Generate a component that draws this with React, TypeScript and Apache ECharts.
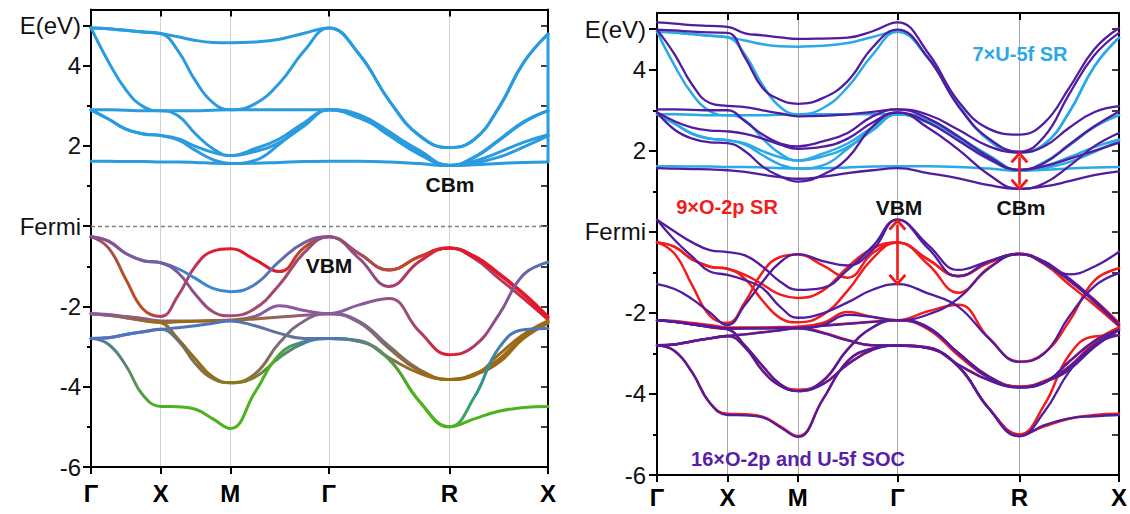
import React, { useEffect, useRef } from 'react';
import * as echarts from 'echarts';

// ---------- k-path (simple cubic) ----------
const kTicks = [0, 0.5, 1.0, 1.7071, 2.5731, 3.2802];
const kLabels = ['Γ', 'X', 'M', 'Γ', 'R', 'X'];
const SUB = 4;
const kGrid: number[] = [];
kTicks.slice(0, -1).forEach((k, s) => {
  for (let j = 0; j < SUB; j++) kGrid.push(k + ((kTicks[s + 1] - k) * j) / SUB);
});
kGrid.push(kTicks[kTicks.length - 1]);
const kMax = kTicks[kTicks.length - 1];

// ---------- energy axis ----------
const yMajor = [-6, -4, -2, 0, 2, 4, 5];
const yMinor = [-5, -3, -1, 1, 3];
const yAll = [-6, -5, -4, -3, -2, -1, 0, 1, 2, 3, 4, 5];
const yLabelText: Record<string, string> = { '0': 'Fermi', '5': 'E(eV)' };

// ---------- scalar-relativistic U-5f bands (7) ----------
const srU1 = [4.94, 4.92, 4.88, 4.84, 4.80, 4.72, 4.63, 4.58, 4.57, 4.59, 4.66, 4.81, 4.94, 4.29, 3.13, 2.26, 1.96, 2.16, 2.95, 4.07, 4.79];
const srU2 = [4.94, 4.92, 4.88, 4.84, 4.80, 4.37, 3.62, 3.08, 2.90, 3.05, 3.57, 4.37, 4.94, 4.29, 3.13, 2.26, 1.96, 2.16, 2.95, 4.07, 4.79];
const srU3 = [4.94, 4.10, 3.40, 2.98, 2.88, 2.88, 2.88, 2.89, 2.90, 2.90, 2.90, 2.90, 2.90, 2.75, 2.26, 1.79, 1.51, 1.71, 2.13, 2.58, 2.88];
const srU4 = [2.90, 2.90, 2.89, 2.88, 2.88, 2.75, 2.30, 1.93, 1.76, 1.93, 2.18, 2.58, 2.90, 2.70, 2.33, 1.89, 1.52, 1.62, 1.84, 2.09, 2.28];
const srU5 = [2.90, 2.67, 2.42, 2.30, 2.26, 2.18, 1.99, 1.84, 1.76, 1.86, 2.09, 2.50, 2.90, 2.72, 2.30, 1.85, 1.51, 1.57, 1.72, 1.97, 2.25];
const srU6 = [2.90, 2.67, 2.42, 2.30, 2.26, 2.15, 1.89, 1.66, 1.56, 1.64, 2.05, 2.55, 2.90, 2.78, 2.36, 1.84, 1.51, 1.72, 2.15, 2.60, 2.88];
const srU7 = [1.62, 1.62, 1.61, 1.61, 1.60, 1.60, 1.59, 1.57, 1.56, 1.57, 1.59, 1.61, 1.62, 1.62, 1.60, 1.56, 1.51, 1.53, 1.56, 1.59, 1.60];
const srU = [srU1, srU2, srU3, srU4, srU5, srU6, srU7];

// ---------- scalar-relativistic O-2p bands (9) ----------
const srO1 = [-0.26, -0.54, -1.32, -2.07, -2.25, -1.73, -0.99, -0.62, -0.56, -0.83, -1.13, -0.53, -0.26, -0.68, -1.09, -0.76, -0.54, -0.74, -1.17, -1.67, -2.25];
const srO2 = [-0.26, -0.37, -0.68, -0.86, -0.91, -1.06, -1.30, -1.55, -1.63, -1.45, -0.87, -0.41, -0.26, -0.80, -1.50, -0.88, -0.54, -0.80, -1.30, -1.80, -2.33];
const srO3 = [-0.26, -0.37, -0.68, -0.86, -0.91, -1.16, -1.70, -2.13, -2.23, -2.05, -1.45, -0.66, -0.26, -0.68, -1.09, -0.76, -0.54, -0.78, -1.20, -1.70, -2.28];
const srO4 = [-2.18, -2.20, -2.25, -2.30, -2.36, -2.36, -2.36, -2.35, -2.34, -2.25, -1.98, -2.10, -2.18, -1.96, -1.80, -2.62, -3.20, -2.99, -2.21, -1.21, -0.90];
const srO5 = [-2.18, -2.22, -2.28, -2.35, -2.40, -2.38, -2.37, -2.36, -2.35, -2.31, -2.26, -2.22, -2.18, -2.40, -3.05, -3.60, -3.82, -3.68, -3.32, -2.75, -2.39];
const srO6 = [-2.18, -2.22, -2.28, -2.35, -2.40, -2.81, -3.31, -3.76, -3.90, -3.68, -2.90, -2.36, -2.18, -2.37, -2.99, -3.57, -3.82, -3.72, -3.20, -2.70, -2.36];
const srO7 = [-2.80, -2.78, -2.70, -2.63, -2.57, -2.53, -2.48, -2.42, -2.36, -2.48, -2.67, -2.80, -2.80, -2.85, -3.28, -3.66, -3.82, -3.70, -3.40, -2.80, -2.42];
const srO8 = [-2.80, -2.78, -2.70, -2.63, -2.57, -2.85, -3.43, -3.80, -3.90, -3.76, -3.27, -2.91, -2.80, -2.87, -3.32, -4.36, -5.00, -4.27, -3.04, -2.58, -2.55];
const srO9 = [-2.80, -2.94, -3.47, -4.22, -4.49, -4.50, -4.56, -4.80, -5.04, -4.14, -3.19, -2.88, -2.80, -2.87, -3.32, -4.36, -5.00, -4.80, -4.61, -4.52, -4.49];
const srO = [srO1, srO2, srO3, srO4, srO5, srO6, srO7, srO8, srO9];

// ---------- SOC bands (16) ----------
const socU1 = [5.17, 5.14, 5.10, 5.08, 5.06, 4.90, 4.85, 4.80, 4.76, 4.77, 4.79, 4.95, 5.17, 4.42, 3.22, 2.54, 2.40, 2.69, 3.55, 4.50, 5.03];
const socU2 = [4.99, 4.97, 4.94, 4.92, 4.91, 4.30, 3.55, 3.26, 3.16, 3.30, 3.72, 4.55, 4.99, 4.30, 3.10, 2.30, 1.98, 2.35, 3.40, 4.35, 4.91];
const socU3 = [4.99, 4.38, 3.63, 3.18, 3.11, 3.08, 3.00, 2.92, 2.85, 2.86, 2.90, 2.96, 3.02, 2.89, 2.52, 2.11, 1.96, 2.11, 2.57, 2.95, 3.10];
const socU4 = [3.02, 3.02, 3.01, 3.00, 3.00, 2.73, 2.40, 2.18, 2.11, 2.23, 2.44, 2.85, 3.02, 2.80, 2.35, 1.85, 1.53, 1.70, 2.15, 2.60, 2.97];
const socU5 = [2.95, 2.73, 2.57, 2.50, 2.48, 2.42, 2.30, 2.15, 2.05, 2.10, 2.30, 2.70, 2.95, 2.57, 2.03, 1.41, 1.06, 1.20, 1.62, 2.11, 2.44];
const socU6 = [2.95, 2.52, 2.30, 2.21, 2.19, 1.99, 1.61, 1.37, 1.24, 1.41, 1.82, 2.60, 2.95, 2.70, 2.25, 1.80, 1.53, 1.62, 1.80, 2.00, 2.20];
const socU7 = [1.57, 1.56, 1.55, 1.54, 1.52, 1.48, 1.41, 1.35, 1.31, 1.36, 1.45, 1.52, 1.57, 1.45, 1.32, 1.15, 1.06, 1.12, 1.25, 1.40, 1.49];
const socO1 = [0.30, 0.01, -0.26, -0.45, -0.50, -0.58, -0.86, -1.23, -1.43, -1.38, -0.94, -0.36, 0.30, -0.32, -0.94, -0.72, -0.55, -0.73, -1.05, -0.86, -0.49];
const socO2 = [0.30, -0.20, -0.61, -0.98, -1.06, -1.19, -1.39, -1.85, -2.12, -2.01, -1.74, -1.43, -1.29, -1.52, -1.85, -2.63, -3.21, -3.00, -2.09, -1.35, -1.02];
const socO3 = [-1.29, -1.41, -1.66, -1.99, -2.30, -1.80, -1.23, -0.75, -0.55, -0.72, -0.83, -0.45, 0.30, -0.40, -1.10, -0.73, -0.55, -0.75, -1.15, -1.68, -2.30];
const socO4 = [-2.18, -2.22, -2.28, -2.33, -2.38, -2.38, -2.38, -2.38, -2.38, -2.30, -2.05, -2.10, -2.18, -2.04, -1.64, -0.90, -0.55, -0.78, -1.20, -1.72, -2.30];
const socO5 = [-2.18, -2.22, -2.28, -2.34, -2.38, -2.38, -2.38, -2.37, -2.37, -2.32, -2.27, -2.22, -2.18, -2.35, -3.00, -3.60, -3.84, -3.72, -3.33, -2.80, -2.42];
const socO6 = [-2.18, -2.22, -2.28, -2.35, -2.40, -2.81, -3.31, -3.76, -3.93, -3.68, -2.90, -2.36, -2.18, -2.37, -2.99, -3.57, -3.84, -3.72, -3.20, -2.70, -2.42];
const socO7 = [-2.81, -2.78, -2.70, -2.63, -2.57, -2.53, -2.48, -2.43, -2.38, -2.50, -2.68, -2.80, -2.81, -2.85, -3.28, -3.66, -3.84, -3.70, -3.40, -2.85, -2.42];
const socO8 = [-2.81, -2.78, -2.70, -2.63, -2.57, -2.85, -3.43, -3.80, -3.93, -3.76, -3.27, -2.91, -2.81, -2.87, -3.32, -4.36, -5.04, -4.44, -3.45, -2.80, -2.55];
const socO9 = [-2.81, -2.94, -3.47, -4.22, -4.52, -4.53, -4.58, -4.82, -5.06, -4.14, -3.19, -2.88, -2.81, -2.87, -3.32, -4.36, -5.04, -4.77, -4.60, -4.55, -4.52];
const soc = [socU1, socU2, socU3, socU4, socU5, socU6, socU7, socO1, socO2, socO3, socO4, socO5, socO6, socO7, socO8, socO9];

// left-panel vertical segments at the closing X point
const edgeU = [4.79, 1.60];
const edgeO = [-0.51, -5.0];

// arrows: [k, Etop, Ebottom]
const gapArrows = [
  [1.7071, 0.18, -1.19],
  [2.5731, 1.84, 1.16],
];

// ---------- styles ----------
const FONT = '"Liberation Sans", Arial, Helvetica, sans-serif';
const C = {
  red: '#e4182c', orange: '#c4481e', mauve: '#8e4e86', mred: '#b04058', purple: '#8a5aa0',
  blue: '#3a8ad2', steel: '#5074bc', brown: '#9a6a16', green: '#4cb21e', gray: '#7a6e78',
  teal: '#2a9a90', pblue: '#6a64a8', pink: '#a04a70', ggreen: '#5a8a66',
};
const oStops: [number, string][][] = [
  [[0, C.mauve], [0.06, '#b2502e'], [0.12, C.orange], [0.1524, C.mred], [0.2, C.pink], [0.27, C.red], [0.4, C.red], [0.47, C.orange], [0.52, C.mauve], [0.6, C.mred], [0.7, C.red], [1, C.red]],
  [[0, C.mauve], [0.1, C.pblue], [0.1524, C.steel], [0.25, C.blue], [0.305, C.blue], [0.45, C.pblue], [0.52, C.mauve], [0.62, C.mauve], [0.78, C.red], [0.85, C.pink], [1, C.red]],
  [[0, C.mauve], [0.15, C.pblue], [0.22, C.mauve], [0.305, C.pink], [0.45, C.pink], [0.52, C.mauve], [0.7, C.orange], [0.78, C.red], [1, C.red]],
  [[0, C.purple], [0.305, C.purple], [0.52, C.purple], [0.6, C.purple], [0.7, C.pink], [0.78, C.red], [0.88, C.mauve], [1, C.steel]],
  [[0, C.purple], [0.1, '#8a6060'], [0.1524, C.brown], [0.305, C.brown], [0.52, C.purple], [0.6, C.gray], [0.7, C.brown], [1, C.brown]],
  [[0, C.purple], [0.15, C.brown], [0.305, C.brown], [0.42, C.gray], [0.52, C.purple], [0.65, C.gray], [0.78, C.brown], [1, C.brown]],
  [[0, C.steel], [0.305, C.steel], [0.42, '#6a7090'], [0.52, C.steel], [0.62, C.gray], [0.72, C.brown], [1, C.brown]],
  [[0, C.steel], [0.15, C.steel], [0.2, '#707060'], [0.305, '#8a7a14'], [0.42, C.ggreen], [0.52, C.steel], [0.62, C.ggreen], [0.72, C.green], [0.78, C.green], [0.85, C.teal], [0.92, C.steel], [1, C.steel]],
  [[0, C.steel], [0.08, C.ggreen], [0.15, C.green], [0.305, C.green], [0.4, C.green], [0.47, '#4a80a0'], [0.52, C.steel], [0.62, C.ggreen], [0.7, C.green], [1, C.green]],
];
const edgeOStops: [number, string][] = [[0, C.red], [0.39, C.red], [0.39, C.purple], [0.6, C.purple], [0.6, C.brown], [0.75, C.brown], [0.75, C.steel], [1, C.steel]];

const leftBlue = '#2b9be0';
const rightBlue = '#2aa9e4';
const srRed = '#f21c1c';
const socPurple = '#521ca0';

const chevron = 'path://M0,12 L10,0 L20,12 L17.5,14 L10,5 L2.5,14 Z';

function grad(stops: [number, string][], vertical = false) {
  return new echarts.graphic.LinearGradient(0, 0, vertical ? 0 : 1, vertical ? 1 : 0,
    stops.map(([offset, color]) => ({ offset, color })));
}

function bandSeries(vals: number[], xi: number, yi: number, color: any, width: number, extra: any = {}) {
  return {
    type: 'line',
    xAxisIndex: xi,
    yAxisIndex: yi,
    data: kGrid.map((k, i) => [k, vals[i]]),
    smooth: 0.45,
    symbol: 'none',
    silent: true,
    lineStyle: { color, width, cap: 'round', join: 'round' },
    ...extra,
  };
}

function labelForK(v: number) {
  const i = kTicks.findIndex((t) => Math.abs(t - v) < 1e-3);
  return i >= 0 ? kLabels[i] : '';
}

function xAxes(gi: number, splitColor: string, margin: number) {
  const line = { show: true, onZero: false, lineStyle: { color: '#000', width: 2 } };
  return [
    {
      gridIndex: gi, type: 'value', position: 'bottom', min: 0, max: kMax,
      axisLine: line,
      axisTick: { show: true, customValues: kTicks, length: 7, lineStyle: { color: '#000', width: 2 } },
      axisLabel: { show: true, customValues: kTicks, formatter: labelForK, fontSize: 24, fontWeight: 'bold', color: '#000', fontFamily: FONT, margin },
      splitLine: { show: true, lineStyle: { color: splitColor, width: 1 } },
    },
    {
      gridIndex: gi, type: 'value', position: 'top', min: 0, max: kMax,
      axisLine: line,
      axisTick: { show: true, inside: true, customValues: kTicks.slice(1, -1), length: 7, lineStyle: { color: '#000', width: 2 } },
      axisLabel: { show: false },
      splitLine: { show: false },
    },
  ];
}

function yAxes(gi: number, margin: number) {
  const base = { gridIndex: gi, type: 'value', min: -6, max: 5.4, splitLine: { show: false } };
  return [
    {
      ...base, position: 'left',
      axisLine: { show: true, onZero: false, lineStyle: { color: '#000', width: 2 } },
      axisTick: { show: true, customValues: yMajor, length: 8, lineStyle: { color: '#000', width: 2 } },
      axisLabel: {
        show: true, customValues: yMajor, fontSize: 24, color: '#111', fontFamily: FONT, margin,
        formatter: (v: number) => yLabelText[String(v)] ?? String(v),
      },
    },
    {
      ...base, position: 'left',
      axisLine: { show: false },
      axisTick: { show: true, customValues: yMinor, length: 4, lineStyle: { color: '#000', width: 2 } },
      axisLabel: { show: false },
    },
    {
      ...base, position: 'right',
      axisLine: { show: true, onZero: false, lineStyle: { color: '#000', width: 2 } },
      axisTick: { show: true, inside: true, customValues: yAll, length: 7, lineStyle: { color: '#000', width: 1.5 } },
      axisLabel: { show: false },
    },
  ];
}

function textEl(text: string, x: number, y: number, fill: string, size: number) {
  return {
    type: 'text', x, y, silent: true, z: 100,
    style: {
      text, fill, font: `bold ${size}px ${FONT}`,
      align: 'center', verticalAlign: 'middle', textAlign: 'center', textVerticalAlign: 'middle',
    },
  };
}

export default function App() {
  const ref = useRef<HTMLDivElement>(null);
  useEffect(() => {
    if (!ref.current) return;
    const chart = echarts.init(ref.current, undefined, { renderer: 'svg' });

    const series: any[] = [];
    // left panel
    srU.forEach((b, i) => series.push(bandSeries(b, 0, 0, leftBlue, 3,
      i === 0 ? {
        markLine: {
          silent: true, symbol: 'none', label: { show: false },
          lineStyle: { type: [4, 3], color: '#808080', width: 1.3 },
          data: [{ yAxis: 0 }],
        },
      } : {})));
    srO.forEach((b, i) => series.push(bandSeries(b, 0, 0, grad(oStops[i]), 3)));
    series.push({
      type: 'line', xAxisIndex: 0, yAxisIndex: 0, symbol: 'none', silent: true,
      data: edgeU.map((e) => [kMax, e]), lineStyle: { color: leftBlue, width: 3 },
    });
    series.push({
      type: 'line', xAxisIndex: 0, yAxisIndex: 0, symbol: 'none', silent: true,
      data: edgeO.map((e) => [kMax, e]), lineStyle: { color: grad(edgeOStops, true), width: 3 },
    });
    // right panel
    srU.forEach((b) => series.push(bandSeries(b, 2, 3, rightBlue, 2.5)));
    srO.forEach((b) => series.push(bandSeries(b, 2, 3, srRed, 2.5)));
    soc.forEach((b, i) => series.push(bandSeries(b, 2, 3, socPurple, 2.3,
      i === soc.length - 1 ? {
        markLine: {
          silent: true, symbol: [chevron, chevron], symbolSize: [18, 12], label: { show: false },
          lineStyle: { type: 'solid', color: '#f01818', width: 2.6 },
          emphasis: { disabled: true },
          data: gapArrows.map(([k, a, b]) => [{ coord: [k, a] }, { coord: [k, b] }]),
        },
      } : {})));

    const option: any = {
      animation: false,
      backgroundColor: '#ffffff',
      grid: [
        { left: 91, top: 9.5, width: 457, height: 457.5 },
        { left: 657, top: 13, width: 462.5, height: 462 },
      ],
      xAxis: [...xAxes(0, '#d2d2d2', 14), ...xAxes(1, '#a8a8a8', 10)],
      yAxis: [...yAxes(0, 10), ...yAxes(1, 11)],
      series,
      graphic: [
        textEl('CBm', 450, 184, '#111', 21),
        textEl('VBM', 329, 265, '#111', 21),
        textEl('7×U-5f SR', 1020, 54, '#2aa9e4', 20),
        textEl('9×O-2p SR', 727, 207, '#f21c1c', 20),
        textEl('VBM', 899, 207, '#111', 21),
        textEl('CBm', 1021, 207, '#111', 21),
        textEl('16×O-2p and U-5f SOC', 798, 459, '#5a1ea8', 20),
      ],
    };
    chart.setOption(option);
    return () => chart.dispose();
  }, []);
  return (
    <div
      ref={ref}
      style={{ position: 'fixed', left: 0, top: 0, width: 1130, height: 514, background: '#fff' }}
    />
  );
}
